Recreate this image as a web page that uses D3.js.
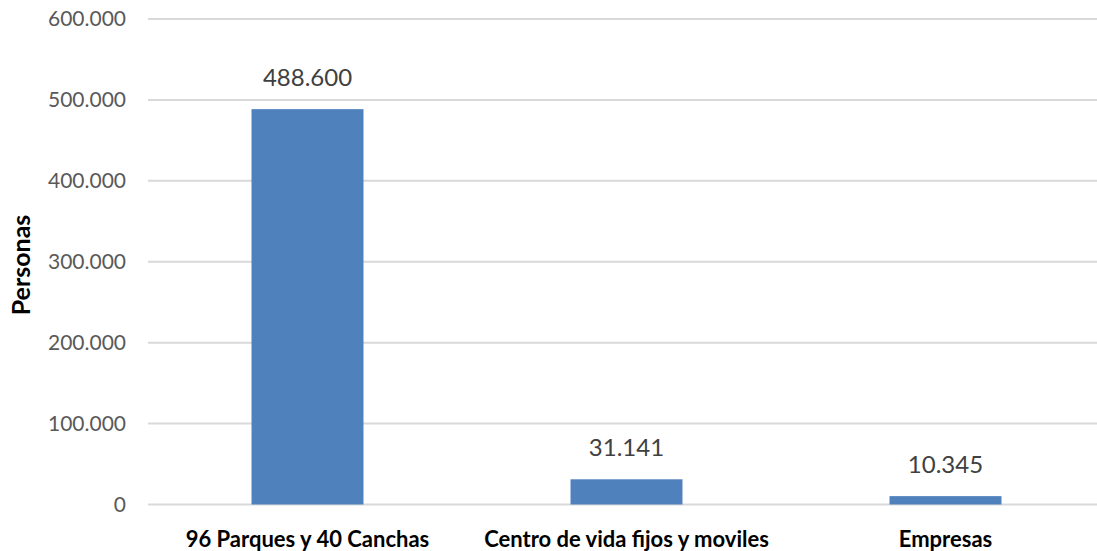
<!DOCTYPE html>
<html>
<head>
<meta charset="utf-8">
<script src="https://cdn.jsdelivr.net/npm/d3@7"></script>
<style>
  html, body { margin: 0; padding: 0; background: #fff; }
  svg { display: block; font-family: Lato, "Open Sans", sans-serif; }
</style>
</head>
<body>
<svg id="chart" width="1097" height="551"></svg>
<script>
// data
const categories = ['96 Parques y 40 Canchas', 'Centro de vida fijos y moviles', 'Empresas'];
const personas = [488600, 31141, 10345];
const yTicks = [0, 100000, 200000, 300000, 400000, 500000, 600000];
const yTitle = 'Personas';

const svg = d3.select('#chart');

// plot area
const plot = { left: 148, right: 1105, top: 19, bottom: 504.5 };

const es = d3.formatLocale({ decimal: ',', thousands: '.', grouping: [3], currency: ['', ''] });
const fmt = es.format(',d');

const x = d3.scaleBand()
  .domain(categories)
  .range([plot.left, plot.right])
  .paddingInner(0.649)
  .paddingOuter(0.3245);

const y = d3.scaleLinear()
  .domain([0, 600000])
  .range([plot.bottom, plot.top]);

// gridlines
svg.append('g')
  .selectAll('line')
  .data(yTicks)
  .join('line')
  .attr('x1', plot.left)
  .attr('x2', plot.right)
  .attr('y1', d => y(d))
  .attr('y2', d => y(d))
  .attr('stroke', '#d9d9d9')
  .attr('stroke-width', 2);

// y axis labels (axis line hidden)
const yAxis = svg.append('g')
  .attr('transform', `translate(${plot.left},0)`)
  .call(d3.axisLeft(y).tickValues(yTicks).tickFormat(fmt).tickSize(0).tickPadding(22));
yAxis.select('.domain').remove();
yAxis.selectAll('text')
  .attr('fill', '#595959')
  .style('font-size', '21px')
  .style('font-family', 'Lato, "Open Sans", sans-serif');

// bars
svg.append('g')
  .selectAll('rect')
  .data(personas)
  .join('rect')
  .attr('x', (d, i) => x(categories[i]))
  .attr('width', x.bandwidth())
  .attr('y', d => y(d))
  .attr('height', d => y(0) - y(d))
  .attr('fill', '#4f81bd');

// data labels
svg.append('g')
  .selectAll('text')
  .data(personas)
  .join('text')
  .attr('x', (d, i) => x(categories[i]) + x.bandwidth() / 2)
  .attr('y', d => y(d) - 23)
  .attr('text-anchor', 'middle')
  .attr('fill', '#404040')
  .style('font-size', '24px')
  .text(d => fmt(d));

// x axis category labels
const xAxis = svg.append('g')
  .attr('transform', `translate(0,${plot.bottom})`)
  .call(d3.axisBottom(x).tickSize(0).tickPadding(27));
xAxis.select('.domain').remove();
xAxis.selectAll('text')
  .attr('fill', '#000')
  .style('font-size', '22px')
  .style('font-weight', 'bold')
  .style('font-family', 'Lato, "Open Sans", sans-serif');

// y title
svg.append('text')
  .attr('transform', 'translate(30,265) rotate(-90)')
  .attr('text-anchor', 'middle')
  .attr('fill', '#000')
  .style('font-size', '25px')
  .style('font-weight', 'bold')
  .text(yTitle);
</script>
</body>
</html>
